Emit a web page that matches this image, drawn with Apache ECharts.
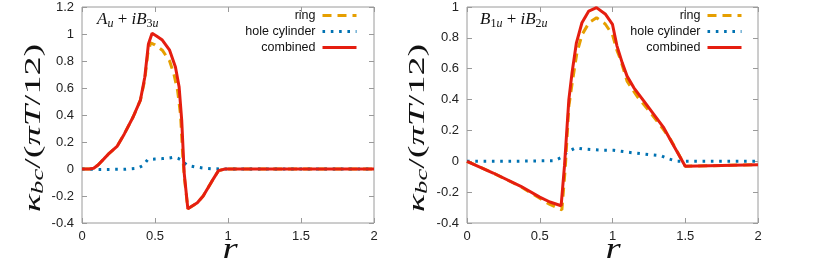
<!DOCTYPE html>
<html>
<head>
<meta charset="utf-8">
<script src="https://cdn.jsdelivr.net/npm/echarts@6/dist/echarts.min.js"></script>
<style>
html,body{margin:0;padding:0;background:#fff;}
#c{width:817px;height:267px;}
</style>
</head>
<body>
<div id="c"></div>
<script>
// ---------- data: left panel (A_u + iB_3u) ----------
const leftRingX = [0,0.05,0.08,0.11,0.15,0.18,0.24,0.29,0.35,0.4,0.43,0.45,0.47,0.5,0.55,0.6,0.63,0.655,0.675,0.69,0.70,0.725,0.79,0.83,0.89,0.935,0.98,2];
const leftRingY = [0,0,0.006,0.03,0.075,0.11,0.167,0.26,0.385,0.51,0.66,0.85,0.935,0.92,0.88,0.8,0.7,0.58,0.4,0.1,-0.05,-0.295,-0.25,-0.2,-0.09,-0.012,0,0];
const leftHoleX = [0,0.1,0.2,0.3,0.38,0.42,0.45,0.5,0.55,0.6,0.63,0.66,0.68,0.72,0.775,0.83,0.89,0.95,2];
const leftHoleY = [0,-0.003,-0.003,-0.002,0.005,0.027,0.07,0.074,0.077,0.082,0.088,0.078,0.066,0.027,0.015,0.007,0.002,0,0];
const leftCombX = [0,0.05,0.08,0.11,0.15,0.18,0.24,0.29,0.35,0.4,0.43,0.455,0.48,0.51,0.55,0.6,0.64,0.665,0.683,0.70,0.725,0.79,0.83,0.89,0.935,0.98,2];
const leftCombY = [0,0,0.006,0.03,0.075,0.11,0.167,0.26,0.385,0.51,0.68,0.926,1.005,0.985,0.955,0.88,0.755,0.61,0.36,-0.03,-0.295,-0.25,-0.2,-0.09,-0.012,0,0];

// ---------- data: right panel (B_1u + iB_2u) ----------
const rightRingX = [0,0.18,0.37,0.5,0.57,0.652,0.675,0.70,0.725,0.755,0.79,0.84,0.89,0.95,1.0,1.03,1.055,1.1,1.17,1.262,1.342,1.4,1.5,2];
const rightRingY = [0,-0.076,-0.165,-0.24,-0.28,-0.315,-0.05,0.357,0.52,0.7,0.82,0.9,0.93,0.89,0.82,0.72,0.66,0.52,0.42,0.314,0.216,0.14,-0.032,-0.022];
const rightHoleX = [0,0.3,0.6,0.642,0.688,0.745,0.8,0.86,0.94,1.01,1.147,1.262,1.331,1.388,1.445,1.5,2];
const rightHoleY = [0,0,0.004,0.022,0.058,0.087,0.08,0.076,0.072,0.071,0.054,0.043,0.037,0.015,0,0,0];
const rightCombX = [0,0.18,0.37,0.5,0.57,0.647,0.67,0.70,0.722,0.752,0.79,0.837,0.89,0.95,1.0,1.03,1.067,1.1,1.147,1.216,1.285,1.353,1.41,1.5,2];
const rightCombY = [0,-0.076,-0.162,-0.232,-0.264,-0.288,-0.03,0.40,0.574,0.768,0.898,0.974,0.996,0.955,0.887,0.75,0.638,0.552,0.476,0.39,0.303,0.216,0.119,-0.032,-0.022];

const seriesNames = ['ring','hole cylinder','combined'];
const leftTitle = '{i|A}{s|u}{n| + }{i|iB}{sn|3}{s|u}';
const rightTitle = '{i|B}{sn|1}{s|u}{n| + }{i|iB}{sn|2}{s|u}';
const yLabel = '{i|κ}{s|bc}{n|/(}{i|πT}{n|/12)}';
const xLabel = 'r';

// ---------- styling ----------
const colors = {ring:'#E69F00', hole:'#0072B2', comb:'#E51E10'};
const zip = (xs, ys) => xs.map((x, i) => [x, ys[i]]);
const frame = '#9a9a9a';
const labelFont = 'Liberation Sans';
const mathFont = 'Liberation Serif';

function xAx(grid, pos, showLabel) {
  return {
    type:'value', gridIndex:grid, position:pos, min:0, max:2, interval:0.5,
    axisLine:{show:false, onZero:false}, splitLine:{show:false},
    axisTick:{show:true, inside:true, length:5, lineStyle:{color:frame}},
    axisLabel:{show:showLabel, color:'#222', fontFamily:labelFont, fontSize:13, margin:7}
  };
}
function yAx(grid, pos, showLabel, max) {
  return {
    type:'value', gridIndex:grid, position:pos, min:-0.4, max:max, interval:0.2,
    axisLine:{show:false, onZero:false}, splitLine:{show:false},
    axisTick:{show:true, inside:true, length:5, lineStyle:{color:frame}},
    axisLabel:{show:showLabel, color:'#222', fontFamily:labelFont, fontSize:13, margin:8}
  };
}
function lines(xi, yi, ring, hole, comb) {
  return [
    {name:seriesNames[0], type:'line', xAxisIndex:xi, yAxisIndex:yi, data:ring, symbol:'none', showSymbol:false,
     lineStyle:{color:colors.ring, width:3, type:[9,6]}, itemStyle:{color:colors.ring}, z:2},
    {name:seriesNames[1], type:'line', xAxisIndex:xi, yAxisIndex:yi, data:hole, symbol:'none', showSymbol:false,
     lineStyle:{color:colors.hole, width:3, type:[2.6,5.7], cap:'butt'}, itemStyle:{color:colors.hole}, z:3},
    {name:seriesNames[2], type:'line', xAxisIndex:xi, yAxisIndex:yi, data:comb, symbol:'none', showSymbol:false,
     lineStyle:{color:colors.comb, width:3}, itemStyle:{color:colors.comb}, z:4}
  ];
}
function legend(right) {
  return {
    data:seriesNames, orient:'vertical', align:'right', right:right, top:9, padding:0,
    itemWidth:34, itemHeight:10, itemGap:3, selectedMode:false,
    itemStyle:{opacity:0},
    lineStyle:{width:3},
    textStyle:{fontFamily:labelFont, fontSize:12.5, color:'#111', padding:[0,2,0,0]}
  };
}
const mathRich = (size) => ({
  i:{fontFamily:mathFont, fontStyle:'italic', fontSize:size, lineHeight:size+2, fill:'#111', verticalAlign:'middle'},
  n:{fontFamily:mathFont, fontSize:size, lineHeight:size+2, fill:'#111', verticalAlign:'middle'},
  s:{fontFamily:mathFont, fontStyle:'italic', fontSize:Math.round(size*0.7), lineHeight:Math.round(size*0.7), fill:'#111', verticalAlign:'bottom'},
  sn:{fontFamily:mathFont, fontSize:Math.round(size*0.7), lineHeight:Math.round(size*0.7), fill:'#111', verticalAlign:'bottom'}
});
function textEl(x, y, text, size, rot, align, sx, sy) {
  return {type:'text', x:x, y:y, rotation:rot||0, scaleX:sx||1, scaleY:sy||1, silent:true,
    style:{text:text, rich:mathRich(size), align:align||'center', verticalAlign:'middle', fill:'#111'}};
}

const chart = echarts.init(document.getElementById('c'), null, {renderer:'canvas'});
chart.setOption({
  animation:false,
  backgroundColor:'#fff',
  grid:[
    {left:82, right:443, top:7, bottom:44, show:true, borderColor:frame, borderWidth:1},
    {left:467, right:59, top:7, bottom:44, show:true, borderColor:frame, borderWidth:1}
  ],
  xAxis:[xAx(0,'bottom',true), xAx(0,'top',false), xAx(1,'bottom',true), xAx(1,'top',false)],
  yAxis:[yAx(0,'left',true,1.2), yAx(0,'right',false,1.2), yAx(1,'left',true,1), yAx(1,'right',false,1)],
  legend:[legend(459), legend(74)],
  series:[
    ...lines(0,0, zip(leftRingX,leftRingY), zip(leftHoleX,leftHoleY), zip(leftCombX,leftCombY)),
    ...lines(2,2, zip(rightRingX,rightRingY), zip(rightHoleX,rightHoleY), zip(rightCombX,rightCombY))
  ],
  graphic:[
    textEl(97, 20, leftTitle, 17, 0, 'left'),
    textEl(480, 20, rightTitle, 17, 0, 'left'),
    textEl(34, 128, yLabel, 30, Math.PI/2, 'center', 1.27, 0.8),
    textEl(418, 128, yLabel, 30, Math.PI/2, 'center', 1.27, 0.8),
    textEl(230, 250, '{i|' + xLabel + '}', 30, 0, 'center', 1.3, 1),
    textEl(613, 250, '{i|' + xLabel + '}', 30, 0, 'center', 1.3, 1)
  ]
});
</script>
</body>
</html>
